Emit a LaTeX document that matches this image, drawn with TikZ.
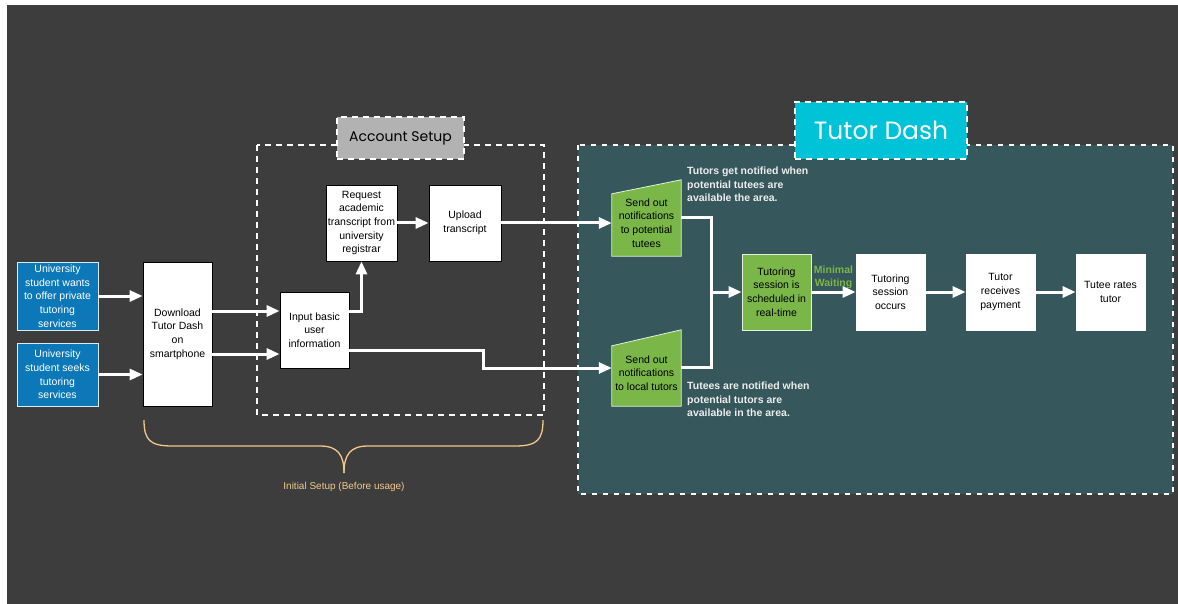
\documentclass[tikz,border=0pt]{standalone}
\usepackage{fontspec}
\setmainfont{Liberation Sans}
\newfontfamily\titlefont{Poppins}
\usetikzlibrary{arrows.meta,calc}

\definecolor{bgdark}{HTML}{3D3D3D}
\definecolor{teal}{HTML}{36575B}
\definecolor{actblue}{HTML}{0D78B8}
\definecolor{stepgreen}{HTML}{7AB648}
\definecolor{cyanhead}{HTML}{00C3D8}
\definecolor{greyhead}{HTML}{B2B2B2}
\definecolor{bracecol}{HTML}{F2C98A}

\tikzset{
  x=1pt, y=-1pt,
  txt/.style={font=\fontsize{10.5}{13.7}\selectfont, align=center},
  actor/.style={txt, draw=white!85!actblue, line width=0.8pt, fill=actblue, text=white,
    minimum width=81pt, inner sep=0pt},
  whitebox/.style={txt, draw=black, line width=0.8pt, fill=white, text=black,
    minimum width=69pt, minimum height=76pt, inner sep=0pt},
  greenbox/.style={whitebox, draw=white!80!stepgreen, fill=stepgreen},
  slot/.style={txt, minimum width=69pt, inner sep=0pt, text=black},
  slant/.style={draw=white!80!stepgreen, line width=0.8pt, fill=stepgreen},
  flow/.style={draw=white, line width=3pt},
  arr/.style={flow, -{Triangle[length=13pt,width=11pt]}},
  groupframe/.style={draw=white, line width=1.5pt, dash pattern=on 6pt off 5pt},
  note/.style={font=\bfseries\fontsize{10.5}{13.2}\selectfont, text=white!93!black, align=left, inner sep=0pt},
}

\begin{document}
\begin{tikzpicture}
% canvas
\useasboundingbox (0,0) rectangle (1178,604);
\fill[white] (0,0) rectangle (1178,604);
\fill[bgdark] (7,5) rectangle (1178,604);

% Tutor Dash region
\fill[teal] (578,145) rectangle (1173,494);
\draw[groupframe, dash pattern=on 5pt off 6pt] (578,145) rectangle (1173,494);
\node[groupframe, fill=cyanhead, minimum width=172pt, minimum height=57pt, inner sep=0pt,
  text=white, font=\titlefont\fontsize{25}{28}\selectfont] (tdhead) at (881,130.5) {Tutor Dash};

% Account Setup region
\draw[groupframe] (257,145) rectangle (544,415);
\node[groupframe, fill=greyhead, minimum width=127pt, minimum height=42pt, inner sep=0pt,
  text=black, font=\titlefont\fontsize{14}{16}\selectfont] (ashead) at (400.5,138) {Account Setup};

% actors
\node[actor, minimum height=68pt] (b1) at (57.5,296) {University\\student wants\\to offer private\\tutoring\\services};
\node[actor, minimum height=63pt] (b2) at (57.5,374.5) {University\\student seeks\\tutoring\\services};

% onboarding steps
\node[whitebox, minimum height=144pt] (dl) at (177.5,334) {Download\\Tutor Dash\\on\\smartphone};
\node[whitebox] (in) at (314.5,330) {Input basic\\user\\information};
\node[whitebox, minimum width=71pt] (rq) at (361.5,223) {Request\\academic\\transcript from\\university\\registrar};
\node[whitebox, minimum width=72pt] (up) at (465,223) {Upload\\transcript};

% notification steps (slanted tops)
\node[slot, minimum height=62pt] (sn1) at (646.5,225) {};
\fill[slant] (sn1.south west) -- (sn1.south east) -- ([yshift=14pt]sn1.north east) -- (sn1.north west) -- cycle;
\node[slot] at ([yshift=2pt]sn1) {Send out\\notifications\\to potential\\tutees};
\node[slot, minimum height=60pt] (sn2) at (646.5,376) {};
\fill[slant] (sn2.south west) -- (sn2.south east) -- ([yshift=16pt]sn2.north east) -- (sn2.north west) -- cycle;
\node[slot] at ([yshift=3pt]sn2) {Send out\\notifications\\to local tutors};

% session steps
\node[greenbox] (sc) at (776.5,292) {Tutoring\\session is\\scheduled in\\real-time};
\node[whitebox, draw=white] (so) at (890.5,292) {Tutoring\\session\\occurs};
\node[whitebox, draw=white] (pay) at (1000.5,292) {Tutor\\receives\\payment};
\node[whitebox, draw=white] (rate) at (1110.5,292) {Tutee rates\\tutor};

% annotations
\node[note, anchor=north west] (n1) at (687,167) {Tutors get notified when\\potential tutees are\\available the area.};
\node[note, anchor=north west] (n2) at (687,382) {Tutees are notified when\\potential tutors are\\available in the area.};

% connectors
\draw[arr] (b1.east) -- (b1.east -| dl.west);
\draw[arr] (b2.east) -- (b2.east -| dl.west);
\draw[arr] ([yshift=23pt]dl.east) -- ([yshift=23pt]dl.east -| in.west);
\draw[arr] ([yshift=-20pt]dl.east) -- ([yshift=-20pt]dl.east -| in.west);
\draw[arr] ([yshift=19pt]in.east) -| (rq.south);
\draw[arr] (rq.east) -- (up.west);
\draw[arr] (up.east) -- (up.east -| sn1.west);
\draw[arr] ([yshift=-20pt]in.east) -- ++(134,0) |- ([yshift=8pt]sn2.west);
\coordinate (mj) at (711,292);
\draw[flow] ([yshift=7pt]sn1.east) -| (mj);
\draw[flow] ([yshift=9pt]sn2.east) -| (mj);
\draw[arr] (mj) -- (sc.west);
\draw[arr] (sc.east) -- node[above=2pt, font=\bfseries\fontsize{10.5}{13}\selectfont, text=stepgreen, align=center, inner sep=0pt] {Minimal\\Waiting} (so.west);
\draw[arr] (so.east) -- (pay.west);
\draw[arr] (pay.east) -- (rate.west);

% initial setup brace
\draw[bracecol, line width=1.3pt] (144,420) .. controls (144,440) and (150,446) .. (172,446)
  -- (320,446) .. controls (338,446) and (344,455) .. (344,473);
\draw[bracecol, line width=1.3pt] (543,420) .. controls (543,440) and (537,446) .. (515,446)
  -- (368,446) .. controls (350,446) and (344,455) .. (344,473);
\node[font=\fontsize{10}{12}\selectfont, text=bracecol] (brlabel) at (344,487) {Initial Setup (Before usage)};
\end{tikzpicture}
\end{document}
